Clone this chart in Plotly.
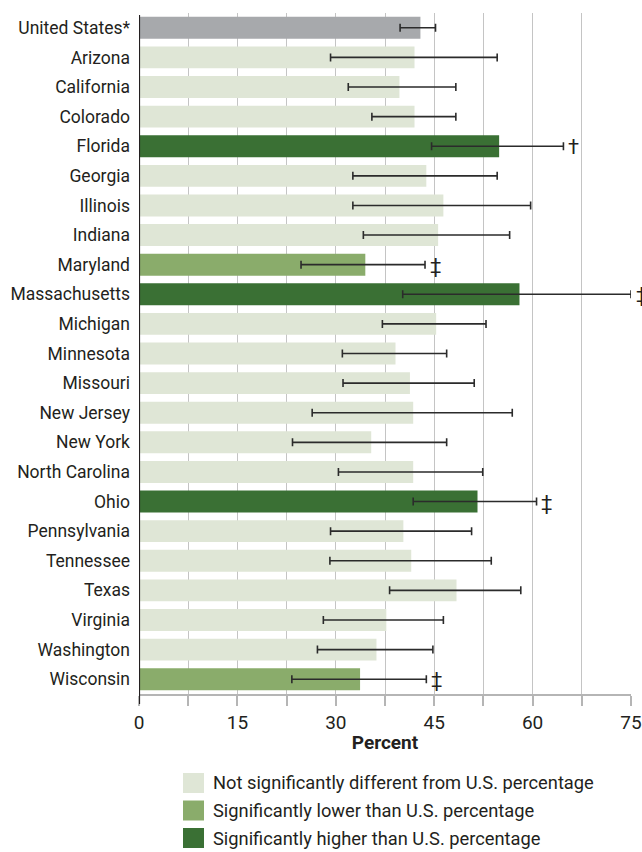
import plotly.graph_objects as go

states = ["United States*", "Arizona", "California", "Colorado", "Florida", "Georgia",
          "Illinois", "Indiana", "Maryland", "Massachusetts", "Michigan", "Minnesota",
          "Missouri", "New Jersey", "New York", "North Carolina", "Ohio", "Pennsylvania",
          "Tennessee", "Texas", "Virginia", "Washington", "Wisconsin"]
values = [42.9, 42.0, 39.7, 42.0, 54.9, 43.8, 46.4, 45.6, 34.5, 58.0, 45.3, 39.1,
          41.3, 41.8, 35.4, 41.8, 51.6, 40.3, 41.5, 48.4, 37.7, 36.2, 33.7]
ci_low = [39.8, 29.2, 31.9, 35.5, 44.6, 32.6, 32.6, 34.2, 24.7, 40.2, 37.1, 31.0,
          31.1, 26.4, 23.4, 30.4, 41.8, 29.2, 29.1, 38.2, 28.1, 27.2, 23.3]
ci_high = [45.2, 54.6, 48.3, 48.3, 64.7, 54.6, 59.7, 56.5, 43.6, 75.0, 52.9, 46.9,
           51.1, 56.9, 46.9, 52.4, 60.6, 50.7, 53.7, 58.2, 46.4, 44.8, 43.8]
# 'us', 'ns' not significant, 'low' lower, 'high' higher
status = ["us", "ns", "ns", "ns", "high", "ns", "ns", "ns", "low", "high", "ns", "ns",
          "ns", "ns", "ns", "ns", "high", "ns", "ns", "ns", "ns", "ns", "low"]
marks = ["", "", "", "", "\u2020", "", "", "", "\u2021", "\u2021", "", "",
         "", "", "", "", "\u2021", "", "", "", "", "", "\u2021"]
x_ticks = [0, 15, 30, 45, 60, 75]
legend_labels = ["Not significantly different from U.S. percentage",
                 "Significantly lower than U.S. percentage",
                 "Significantly higher than U.S. percentage"]
legend_keys = ["ns", "low", "high"]

colors = {"us": "#a7a9ac", "ns": "#dfe6d6", "low": "#8aac6b", "high": "#3a7034"}
FONT = "Roboto, Lato, sans-serif"
TXT = "#231f20"

W, H = 642, 852
ML, MR, MT, MB = 139, 11, 13, 158
pw, ph = W - ML - MR, H - MT - MB

def px_x(p):
    return (p - ML) / pw

def px_y(p):
    return (H - MB - p) / ph

fig = go.Figure()
fig.add_trace(go.Bar(
    y=states, x=values, orientation="h",
    marker=dict(color=[colors[s] for s in status], line=dict(width=0)),
    width=0.74,
    error_x=dict(type="data", symmetric=False,
                 array=[h - v for h, v in zip(ci_high, values)],
                 arrayminus=[v - l for v, l in zip(values, ci_low)],
                 color="#2b2b2b", thickness=1.6, width=4),
    showlegend=False, hoverinfo="skip",
))

for st, hi, m in zip(states, ci_high, marks):
    if m:
        fig.add_annotation(x=hi, y=st, text=m, showarrow=False, xanchor="center",
                           xshift=10, yshift=-1,
                           font=dict(family=FONT, size=20, color=TXT))

# left axis extension below plot
fig.add_shape(type="line", xref="x", x0=0, x1=0, yref="paper", y0=px_y(704), y1=1 - (15 - MT) / ph,
              line=dict(color="#231f20", width=2.2))

# manual legend
for i, (lab, key) in enumerate(zip(legend_labels, legend_keys)):
    top = 773 + i * 27.5
    fig.add_shape(type="rect", xref="paper", yref="paper",
                  x0=px_x(183), x1=px_x(204), y0=px_y(top), y1=px_y(top + 20),
                  fillcolor=colors[key], line=dict(width=0))
    fig.add_annotation(xref="paper", yref="paper", x=px_x(211), y=px_y(top + 10),
                       text=lab, showarrow=False, xanchor="left", yanchor="middle",
                       font=dict(family=FONT, size=18.3, color=TXT))

fig.update_layout(
    width=W, height=H,
    margin=dict(l=ML, r=MR, t=MT, b=MB, pad=0, autoexpand=False),
    paper_bgcolor="white", plot_bgcolor="white",
    font=dict(family=FONT, size=18, color=TXT),
    bargap=0.26,
)
fig.update_xaxes(
    range=[0, 75], tickvals=x_ticks, ticktext=[str(t) for t in x_ticks],
    automargin=False,
    showgrid=True, gridcolor="#c4c4c4", gridwidth=1,
    zeroline=False,
    showline=True, linecolor="#b5b5b5", linewidth=1.5,
    ticks="outside", ticklen=10, tickcolor="#b5b5b5", tickwidth=1.5,
    minor=dict(dtick=7.5, tick0=0, showgrid=True, gridcolor="#c4c4c4", gridwidth=1,
               ticks="outside", ticklen=10, tickcolor="#b5b5b5", tickwidth=1.5),
    tickfont=dict(family=FONT, size=19, color=TXT),
    title=dict(text="<b>Percent</b>", font=dict(family=FONT, size=19, color=TXT), standoff=3),
)
fig.update_yaxes(
    autorange="reversed", showgrid=False, zeroline=False, showline=False,
    automargin=False,
    ticks="", ticklabelstandoff=8,
    tickfont=dict(family=FONT, size=17.5, color=TXT),
)

fig.write_html("out.html")
